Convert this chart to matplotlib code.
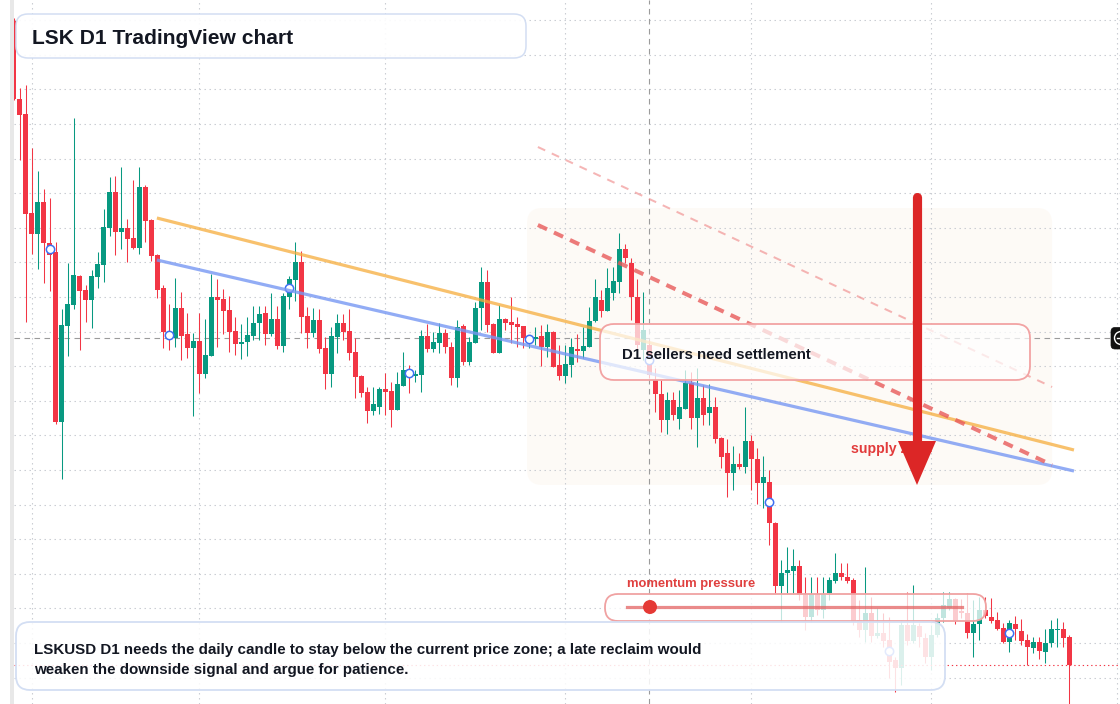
import numpy as np
import pandas as pd
import matplotlib
matplotlib.use("Agg")
import matplotlib.pyplot as plt
import matplotlib.dates as mdates
import matplotlib.transforms as mtransforms
from matplotlib.patches import FancyBboxPatch, Polygon, Circle
from matplotlib.lines import Line2D
from matplotlib.ticker import MultipleLocator

plt.rcParams['font.family'] = ['Liberation Sans', 'DejaVu Sans']

# ---------------- data (LSKUSD daily) ----------------
start_date = "2025-01-29"
opens = [0.979, 0.901, 0.886, 0.787, 0.766, 0.798, 0.757, 0.748, 0.578, 0.674,
         0.695, 0.724, 0.710, 0.700, 0.723, 0.735, 0.772, 0.808, 0.768, 0.772,
         0.762, 0.752, 0.813, 0.780, 0.745, 0.712, 0.667, 0.662, 0.692, 0.666,
         0.652, 0.659, 0.626, 0.644, 0.703, 0.701, 0.690, 0.669, 0.656, 0.658,
         0.664, 0.677, 0.687, 0.666, 0.681, 0.654, 0.703, 0.720, 0.738, 0.684,
         0.667, 0.680, 0.652, 0.626, 0.663, 0.677, 0.669, 0.648, 0.624, 0.608,
         0.589, 0.593, 0.611, 0.609, 0.590, 0.614, 0.630, 0.624, 0.625, 0.664,
         0.651, 0.657, 0.667, 0.653, 0.622, 0.674, 0.638, 0.657, 0.692, 0.718,
         0.676, 0.647, 0.681, 0.678, 0.676, 0.674, 0.659, 0.661, 0.664, 0.653,
         0.668, 0.635, 0.624, 0.635, 0.651, 0.649, 0.653, 0.679, 0.700, 0.689,
         0.707, 0.718, 0.751, 0.737, 0.703, 0.650, 0.655, 0.620, 0.606, 0.580,
         0.600, 0.581, 0.591, 0.617, 0.582, 0.602, 0.587, 0.593, 0.562, 0.547,
         0.527, 0.536, 0.533, 0.559, 0.541, 0.517, 0.518, 0.477, 0.414, 0.427,
         0.429, 0.434, 0.405, 0.383, 0.406, 0.390, 0.407, 0.419, 0.427, 0.423,
         0.420, 0.380, 0.370, 0.387, 0.364, 0.367, 0.360, 0.340, 0.332, 0.375,
         0.359, 0.374, 0.362, 0.343, 0.365, 0.382, 0.392, 0.401, 0.389, 0.387,
         0.367, 0.376, 0.390, 0.383, 0.380, 0.372, 0.358, 0.376, 0.369, 0.360,
         0.352, 0.358, 0.348, 0.357, 0.370, 0.371, 0.363]
highs = [0.982, 0.912, 0.915, 0.852, 0.829, 0.811, 0.802, 0.758, 0.691, 0.737,
         0.882, 0.725, 0.715, 0.730, 0.748, 0.791, 0.823, 0.824, 0.833, 0.781,
         0.820, 0.833, 0.815, 0.781, 0.746, 0.715, 0.696, 0.722, 0.708, 0.687,
         0.667, 0.687, 0.681, 0.726, 0.721, 0.711, 0.704, 0.683, 0.676, 0.683,
         0.694, 0.694, 0.694, 0.707, 0.694, 0.707, 0.724, 0.758, 0.749, 0.693,
         0.692, 0.691, 0.663, 0.673, 0.686, 0.686, 0.691, 0.662, 0.625, 0.613,
         0.613, 0.613, 0.627, 0.618, 0.628, 0.648, 0.635, 0.630, 0.670, 0.676,
         0.668, 0.677, 0.671, 0.658, 0.680, 0.676, 0.663, 0.698, 0.733, 0.730,
         0.677, 0.695, 0.682, 0.703, 0.683, 0.674, 0.665, 0.673, 0.675, 0.676,
         0.669, 0.655, 0.655, 0.662, 0.666, 0.673, 0.693, 0.721, 0.710, 0.732,
         0.733, 0.767, 0.756, 0.742, 0.721, 0.708, 0.660, 0.632, 0.620, 0.608,
         0.608, 0.610, 0.630, 0.628, 0.632, 0.615, 0.616, 0.603, 0.563, 0.561,
         0.554, 0.547, 0.593, 0.565, 0.552, 0.544, 0.530, 0.478, 0.440, 0.453,
         0.451, 0.440, 0.423, 0.423, 0.423, 0.423, 0.423, 0.447, 0.437, 0.437,
         0.422, 0.400, 0.433, 0.403, 0.392, 0.387, 0.383, 0.343, 0.380, 0.408,
         0.415, 0.377, 0.367, 0.375, 0.387, 0.408, 0.408, 0.402, 0.401, 0.407,
         0.400, 0.403, 0.403, 0.402, 0.388, 0.377, 0.380, 0.384, 0.381, 0.366,
         0.363, 0.363, 0.371, 0.380, 0.382, 0.378, 0.365]
lows = [0.900, 0.840, 0.678, 0.746, 0.731, 0.717, 0.709, 0.576, 0.521, 0.644,
        0.691, 0.650, 0.678, 0.672, 0.712, 0.718, 0.764, 0.745, 0.751, 0.738,
        0.751, 0.746, 0.758, 0.739, 0.702, 0.652, 0.650, 0.653, 0.640, 0.642,
        0.584, 0.607, 0.622, 0.644, 0.653, 0.666, 0.648, 0.645, 0.641, 0.644,
        0.660, 0.660, 0.655, 0.664, 0.651, 0.648, 0.691, 0.699, 0.667, 0.652,
        0.663, 0.647, 0.611, 0.613, 0.647, 0.660, 0.640, 0.602, 0.603, 0.577,
        0.585, 0.586, 0.585, 0.573, 0.590, 0.614, 0.607, 0.618, 0.608, 0.648,
        0.648, 0.647, 0.647, 0.615, 0.613, 0.635, 0.635, 0.657, 0.670, 0.668,
        0.647, 0.647, 0.670, 0.657, 0.653, 0.652, 0.652, 0.655, 0.634, 0.643,
        0.633, 0.620, 0.617, 0.623, 0.638, 0.642, 0.653, 0.678, 0.683, 0.689,
        0.700, 0.707, 0.737, 0.680, 0.650, 0.640, 0.622, 0.588, 0.568, 0.566,
        0.580, 0.571, 0.591, 0.571, 0.553, 0.575, 0.575, 0.557, 0.532, 0.503,
        0.510, 0.531, 0.527, 0.510, 0.496, 0.492, 0.455, 0.407, 0.378, 0.407,
        0.407, 0.400, 0.370, 0.378, 0.385, 0.382, 0.400, 0.417, 0.420, 0.417,
        0.375, 0.363, 0.358, 0.358, 0.362, 0.353, 0.322, 0.308, 0.315, 0.355,
        0.357, 0.353, 0.337, 0.330, 0.363, 0.378, 0.390, 0.376, 0.382, 0.362,
        0.343, 0.360, 0.382, 0.377, 0.370, 0.357, 0.348, 0.360, 0.355, 0.335,
        0.347, 0.341, 0.337, 0.353, 0.353, 0.353, 0.290]
closes = [0.901, 0.885, 0.786, 0.766, 0.798, 0.757, 0.745, 0.578, 0.675, 0.696,
          0.725, 0.709, 0.700, 0.724, 0.736, 0.773, 0.808, 0.768, 0.772, 0.761,
          0.752, 0.813, 0.779, 0.744, 0.710, 0.668, 0.662, 0.692, 0.664, 0.652,
          0.659, 0.626, 0.645, 0.703, 0.700, 0.689, 0.668, 0.656, 0.658, 0.665,
          0.677, 0.686, 0.666, 0.681, 0.654, 0.704, 0.721, 0.738, 0.683, 0.667,
          0.680, 0.651, 0.626, 0.664, 0.677, 0.668, 0.647, 0.623, 0.607, 0.589,
          0.596, 0.611, 0.608, 0.590, 0.616, 0.630, 0.624, 0.626, 0.664, 0.651,
          0.658, 0.667, 0.653, 0.622, 0.673, 0.638, 0.658, 0.692, 0.718, 0.675,
          0.647, 0.681, 0.677, 0.675, 0.673, 0.662, 0.662, 0.663, 0.653, 0.668,
          0.633, 0.624, 0.636, 0.653, 0.649, 0.654, 0.679, 0.703, 0.689, 0.712,
          0.719, 0.751, 0.742, 0.703, 0.655, 0.670, 0.625, 0.606, 0.580, 0.600,
          0.585, 0.593, 0.617, 0.582, 0.602, 0.585, 0.593, 0.561, 0.543, 0.527,
          0.536, 0.533, 0.559, 0.541, 0.517, 0.523, 0.477, 0.414, 0.427, 0.430,
          0.434, 0.405, 0.383, 0.406, 0.390, 0.406, 0.420, 0.427, 0.423, 0.419,
          0.378, 0.370, 0.387, 0.364, 0.367, 0.359, 0.338, 0.332, 0.375, 0.359,
          0.375, 0.363, 0.343, 0.365, 0.382, 0.395, 0.401, 0.379, 0.387, 0.367,
          0.376, 0.390, 0.384, 0.379, 0.371, 0.358, 0.377, 0.371, 0.359, 0.353,
          0.358, 0.349, 0.357, 0.371, 0.371, 0.362, 0.335]

# drawn trend lines (date, price)
trend_dates = ["2025-02-21 21:36", "2025-07-24 18:00"]
orange_prices = [0.782, 0.550]
blue_prices = [0.740, 0.529]
channel_dates = ["2025-04-26 09:36", "2025-07-21 02:24"]
red_dash_prices = [0.775, 0.535]
pink_dash_prices = [0.853, 0.613]
zone_dates = ["2025-04-24 14:24", "2025-07-21 02:24"]
zone_prices = [0.515, 0.792]
crosshair_date = "2025-05-15"
crosshair_price = 0.662
marker_start, marker_step = 6, 20

title_text = "LSK D1 TradingView chart"
callout_text = "D1 sellers need settlement"
zone_label = "supply zone"
momentum_label = "momentum pressure"
note_lines = ["LSKUSD D1 needs the daily candle to stay below the current price zone; a late reclaim would",
              "weaken the downside signal and argue for patience."]

# ---------------- figure ----------------
W, H = 1120, 704
fig = plt.figure(figsize=(W / 100, H / 100), dpi=100)
fig.patch.set_facecolor("white")
ax = fig.add_axes([14 / W, 0, 1 - 14 / W, 1])
ax.set_facecolor("white")
for s in ax.spines.values():
    s.set_visible(False)

o = np.array(opens); h = np.array(highs); l = np.array(lows); c = np.array(closes)
h = np.maximum(h, np.maximum(o, c)); l = np.minimum(l, np.minimum(o, c))
dates = pd.date_range(start_date, periods=len(o), freq="D")
x = mdates.date2num(dates)
x0 = x[0]
ax.set_xlim(x0 + 0.083, x0 + 184.42)
ax.set_ylim(0.296, 1.0)

# grid
ax.xaxis.set_major_locator(mdates.MonthLocator())
ax.yaxis.set_major_locator(MultipleLocator(0.0346, offset=0.011))
ax.grid(True, color="#c9ccd2", lw=0.8, linestyle=(0, (1.3, 3.2)), zorder=0)
ax.tick_params(left=False, bottom=False, labelleft=False, labelbottom=False)
ax.set_axisbelow(True)

GREEN, RED = "#089981", "#f23645"
up = c >= o
cols = np.where(up, GREEN, RED)

# supply zone shading
zd = mdates.date2num(pd.to_datetime(zone_dates))
ax.add_patch(FancyBboxPatch((zd[0], zone_prices[0]), zd[1] - zd[0], zone_prices[1] - zone_prices[0],
                            boxstyle="round,pad=0,rounding_size=2.5", mutation_aspect=0.006,
                            facecolor="#fbeedf", alpha=0.28, edgecolor="none", zorder=0.5))

# crosshair
ax.axhline(crosshair_price, color="#9b9b9b", lw=0.8, linestyle=(0, (5, 4)), zorder=1)
ax.axvline(mdates.date2num(pd.Timestamp(crosshair_date)), color="#9b9b9b", lw=0.8,
           linestyle=(0, (5, 4)), zorder=1)

# candles
ax.vlines(x, l, h, colors=cols, lw=0.75, zorder=2)
body = np.maximum(np.abs(c - o), 0.0012)
ax.bar(x, body, bottom=np.minimum(o, c), width=0.82, color=cols, lw=0, zorder=2.1)

# current price dotted line
ax.axhline(c[-1], color=RED, lw=0.8, linestyle=(0, (1.2, 2.6)), zorder=2.2)

# markers
mi = np.arange(marker_start, len(o), marker_step)
ax.plot(x[mi], (o[mi] + c[mi]) / 2, "o", ms=6.0, mfc="white", mec="#3d6ff2", mew=1.1,
        zorder=3, ls="none")

# trend lines
td = mdates.date2num(pd.to_datetime(trend_dates))
cd = mdates.date2num(pd.to_datetime(channel_dates))
ax.plot(td, orange_prices, color="#f6ad3c", alpha=0.75, lw=2.3, zorder=4, solid_capstyle="butt")
ax.plot(td, blue_prices, color="#7798f3", alpha=0.8, lw=2.3, zorder=4, solid_capstyle="butt")
ax.plot(cd, red_dash_prices, color="#e85a5a", alpha=0.8, lw=2.9, linestyle=(0, (2.5, 1.9)), zorder=4)
ax.plot(cd, pink_dash_prices, color="#ef8585", alpha=0.6, lw=1.45, linestyle=(0, (4, 3.6)), zorder=4)

# ---------------- overlays in pixel coordinates ----------------
ID = mtransforms.IdentityTransform()


def box(x0_, y0_, x1_, y1_, r, fc, ec, alpha_fc, lw, z):
    p = FancyBboxPatch((x0_, H - y1_), x1_ - x0_, y1_ - y0_,
                       boxstyle=f"round,pad=0,rounding_size={r}",
                       facecolor=matplotlib.colors.to_rgba(fc, alpha_fc), edgecolor=ec,
                       lw=lw, transform=ID, zorder=z, clip_on=False)
    ax.add_artist(p)


def txt(x_, y_base, s, size, color, z, weight="bold"):
    ax.text(x_, H - y_base, s, transform=ID, fontsize=size, color=color, fontweight=weight,
            ha="left", va="baseline", zorder=z, clip_on=False)


DARK = "#131722"
# title
box(16, 14, 526, 58, 12, "white", "#d3def3", 0.92, 1.1, 10)
txt(32, 43.5, title_text, 15.1, DARK, 11)

# supply zone label (under arrow)
txt(851, 452.5, zone_label, 10.2, "#e23b3b", 6)

# callout box
box(600, 324, 1030, 380, 14, "white", "#f2a3a3", 0.72, 1.3, 7)
txt(622, 359.3, callout_text, 10.8, DARK, 8)

# arrow
ax.add_artist(Line2D([917, 917], [H - 197, H - 445], lw=6.6, color="#dc2626",
                     solid_capstyle="round", transform=ID, zorder=9, clip_on=False))
ax.add_artist(Polygon([(898, H - 441), (936, H - 441), (917, H - 485)], closed=True,
                      facecolor="#dc2626", edgecolor="none", transform=ID, zorder=9, clip_on=False))

# momentum pressure pill
txt(627, 586.7, momentum_label, 9.4, "#e0403f", 8)
box(605, 594, 986, 621, 13, "white", "#f0a2a2", 0.75, 1.3, 7)
ax.add_artist(Line2D([627, 962], [H - 607, H - 607], lw=2.3, color="#e46363", alpha=0.75,
                     transform=ID, zorder=8, clip_on=False))
ax.add_artist(Circle((650, H - 607), 7, facecolor="#e53935", edgecolor="none",
                     transform=ID, zorder=8.5, clip_on=False))

# note box
box(16, 622, 945, 690, 14, "white", "#d3def3", 0.86, 1.3, 7)
txt(34, 654, note_lines[0], 10.9, DARK, 8)
txt(34, 674, note_lines[1], 10.9, DARK, 8)

# right-edge price label
box(1111, 327.5, 1140, 349, 4, "#111111", "#111111", 1.0, 0.5, 10)
ax.add_artist(Circle((1121, H - 338), 6.5, facecolor="none", edgecolor="white", lw=1.0,
                     transform=ID, zorder=11, clip_on=False))
ax.add_artist(Line2D([1117, 1125], [H - 338, H - 338], lw=1.0, color="white",
                     transform=ID, zorder=11, clip_on=False))

# left frame strip
fig.add_artist(matplotlib.patches.Rectangle((10, 0), 4, H, transform=ID, facecolor="#e8e8e8",
                                            edgecolor="none", zorder=20))

fig.savefig("out.png", dpi=100, facecolor="white")
